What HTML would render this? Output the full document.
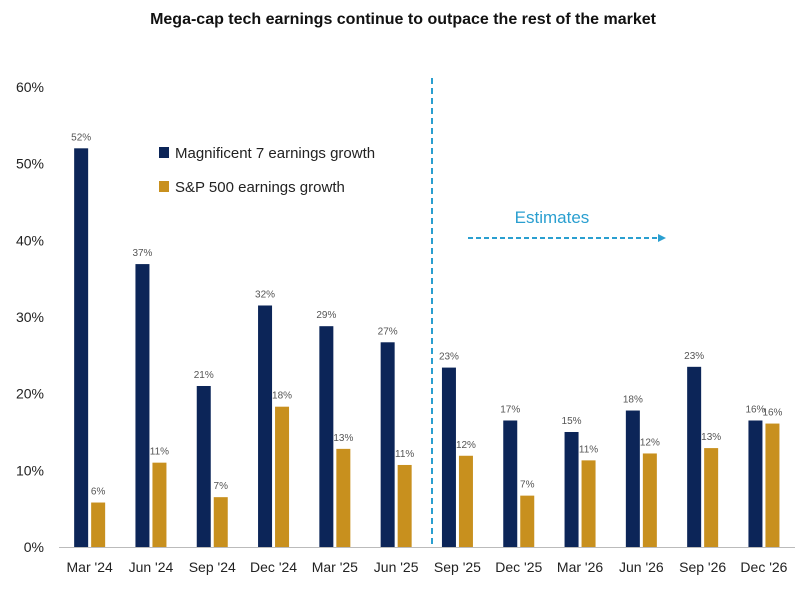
<!DOCTYPE html>
<html><head><meta charset="utf-8"><style>
body{margin:0;background:#fff;font-family:"Liberation Sans",sans-serif}
svg text{font-family:"Liberation Sans",sans-serif}
</style></head><body>
<svg id="chart" width="806" height="586">
<text x="403" y="24" text-anchor="middle" font-size="16" font-weight="bold" fill="#111">Mega-cap tech earnings continue to outpace the rest of the market</text>
<g id="axes"></g><g id="bars"></g>
<line x1="432" y1="78" x2="432" y2="548" stroke="#2a9fd0" stroke-width="2" stroke-dasharray="6,4"/>
<text x="552" y="223" text-anchor="middle" font-size="17" fill="#2a9fd0">Estimates</text>
<line x1="468" y1="238" x2="660" y2="238" stroke="#2a9fd0" stroke-width="2" stroke-dasharray="5,3"/>
<polygon points="666,238 658,234 658,242" fill="#2a9fd0"/>
<rect x="159" y="147" width="10" height="11" fill="#0c2558"/>
<text x="175" y="158" font-size="15" fill="#222">Magnificent 7 earnings growth</text>
<rect x="159" y="181" width="10" height="11" fill="#c8901e"/>
<text x="175" y="192" font-size="15" fill="#222">S&amp;P 500 earnings growth</text>
</svg>
<script>
const categories=["Mar '24","Jun '24","Sep '24","Dec '24","Mar '25","Jun '25","Sep '25","Dec '25","Mar '26","Jun '26","Sep '26","Dec '26"];
const mag7=[52,36.9,21,31.5,28.8,26.7,23.4,16.5,15,17.8,23.5,16.5];
const sp500=[5.8,11,6.5,18.3,12.8,10.7,11.9,6.7,11.3,12.2,12.9,16.1];
const mag7Labels=["52%","37%","21%","32%","29%","27%","23%","17%","15%","18%","23%","16%"];
const sp500Labels=["6%","11%","7%","18%","13%","11%","12%","7%","11%","12%","13%","16%"];
const yTicks=[0,10,20,30,40,50,60];
const NS="http://www.w3.org/2000/svg";
const y0=547,pxPer=76.67/10,left=59,step=61.3,bw=14;
const yS=v=>y0-v*pxPer;
const xC=i=>left+step*(i+0.5);
function mk(t,a,p){const e=document.createElementNS(NS,t);for(const k in a)e.setAttribute(k,a[k]);p.appendChild(e);return e;}
const ax=document.getElementById('axes'),bars=document.getElementById('bars');
yTicks.forEach(v=>{const t=mk('text',{x:44,y:yS(v)+5,'text-anchor':'end','font-size':14,fill:'#222'},ax);t.textContent=v+'%';

});
const bl=mk('line',{x1:left,x2:795,y1:y0+0.5,y2:y0+0.5,stroke:'#bbb'},ax);


categories.forEach((c,i)=>{
const t=mk('text',{x:xC(i),y:572,'text-anchor':'middle','font-size':14,fill:'#222'},ax);t.textContent=c;


const x1=xC(i)-bw-1.5,x2=xC(i)+1.5;
const r1=mk('rect',{x:x1,y:yS(mag7[i]),width:bw,height:mag7[i]*pxPer,fill:'#0c2558'},bars);


const r2=mk('rect',{x:x2,y:yS(sp500[i]),width:bw,height:sp500[i]*pxPer,fill:'#c8901e'},bars);


const l1=mk('text',{x:x1+bw/2,y:yS(mag7[i])-8,'text-anchor':'middle','font-size':10,fill:'#555'},bars);l1.textContent=mag7Labels[i];


const l2=mk('text',{x:x2+bw/2,y:yS(sp500[i])-8,'text-anchor':'middle','font-size':10,fill:'#555'},bars);l2.textContent=sp500Labels[i];


});
</script>
</body></html>
